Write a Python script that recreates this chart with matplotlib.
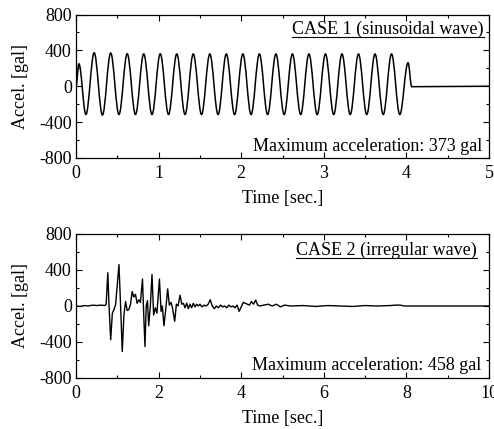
import matplotlib
matplotlib.use("Agg")
import matplotlib.pyplot as plt
from matplotlib.path import Path
from matplotlib.patches import PathPatch
from matplotlib.ticker import MultipleLocator
from matplotlib.lines import Line2D

plt.rcParams['font.family'] = ['Liberation Serif', 'DejaVu Serif']
plt.rcParams['axes.unicode_minus'] = False
FS = 13

# ---- CASE 1: sinusoidal wave, extreme points (time [s], accel [gal]) ----
sin_times = [0.0, 0.035, 0.12, 0.22, 0.32, 0.42, 0.52, 0.62, 0.72, 0.82, 0.92,
             1.02, 1.12, 1.22, 1.32, 1.42, 1.52, 1.62, 1.72, 1.82, 1.92,
             2.02, 2.12, 2.22, 2.32, 2.42, 2.52, 2.62, 2.72, 2.82, 2.92,
             3.02, 3.12, 3.22, 3.32, 3.42, 3.52, 3.62, 3.72, 3.82, 3.92,
             4.02, 4.065, 5.0]
sin_accel = [0, 250, -315, 373, -320, 370, -315, 362, -315, 360, -315,
             362, -315, 360, -315, 360, -315, 360, -315, 360, -315,
             360, -315, 360, -315, 360, -315, 360, -315, 360, -315,
             360, -315, 360, -315, 360, -315, 360, -315, 360, -315,
             262, -5, 0]

# ---- CASE 2: irregular wave (time [s], accel [gal]) ----
irr_times = [0.0, 0.1, 0.2, 0.3, 0.4, 0.5, 0.6, 0.7, 0.73, 0.77, 0.80, 0.84,
             0.88, 0.92, 0.96, 1.04, 1.08, 1.12, 1.16, 1.20, 1.24, 1.28, 1.32,
             1.36, 1.40, 1.44, 1.48, 1.52, 1.56, 1.61, 1.64, 1.67, 1.70, 1.73,
             1.76, 1.80, 1.84, 1.88, 1.92, 1.96, 2.02, 2.06, 2.09, 2.13, 2.17,
             2.22, 2.26, 2.30, 2.34, 2.39, 2.43, 2.47, 2.52, 2.56, 2.60, 2.64,
             2.68, 2.72, 2.76, 2.80, 2.84, 2.88, 2.92, 2.96, 3.00, 3.05, 3.10,
             3.15, 3.20, 3.25, 3.30, 3.35, 3.40, 3.45, 3.50, 3.55, 3.60, 3.65,
             3.70, 3.75, 3.80, 3.85, 3.90, 3.95, 4.00, 4.05, 4.10, 4.15, 4.20,
             4.25, 4.30, 4.35, 4.40, 4.45, 4.55, 4.65, 4.75, 4.85, 4.95, 5.05,
             5.2, 5.5, 5.8, 6.1, 6.4, 6.7, 7.0, 7.3, 7.6, 7.75, 7.85, 7.95,
             8.2, 10.0]
irr_accel = [0, -5, 5, 0, 10, 5, 10, 5, 20, 370, 0, -375,
             -80, -40, 20, 460, 0, -505, -100, 50, -50, -40, 20,
             160, 100, 130, 30, 70, 40, 300, -100, -450, 0, 60,
             -220, 0, 350, -100, -20, -80, 300, -60, 0, -220, -50,
             190, 10, 40, -30, -170, 20, 0, 120, 20, 30, -20,
             30, -30, 20, -20, 30, -10, 20, 0, 20, -10, 10,
             0, 20, 70, 0, -30, 0, -20, 10, -10, 0, -20,
             10, -10, 0, -20, 10, -60, -10, 40, 30, 20, 10,
             50, 20, 65, 10, 0, 10, 20, 0, 20, -10, 10,
             0, 5, -5, 5, 0, -5, 5, 0, 5, 10, 10, 0,
             0, 0]

fig = plt.figure(figsize=(4.94, 4.29), dpi=100)
ax1 = fig.add_axes([76/494, 1-158/429, 413/494, 143.5/429])
ax2 = fig.add_axes([76/494, 1-378/429, 413/494, 144/429])

# smooth sinusoid via cubic Bezier between successive extremes
verts = [(sin_times[0], sin_accel[0])]
codes = [Path.MOVETO]
c = 0.3634
for i in range(len(sin_times) - 1):
    t0, v0 = sin_times[i], sin_accel[i]
    t1, v1 = sin_times[i + 1], sin_accel[i + 1]
    dt = t1 - t0
    verts += [(t0 + c*dt, v0), (t1 - c*dt, v1), (t1, v1)]
    codes += [Path.CURVE4]*3
ax1.add_patch(PathPatch(Path(verts, codes), fill=False, lw=1.1, ec='black'))

ax2.plot(irr_times, irr_accel, color='black', lw=1.0)

def style(ax, xmax, xmaj, xmin):
    ax.set_xlim(0, xmax)
    ax.set_ylim(-800, 800)
    ax.xaxis.set_major_locator(MultipleLocator(xmaj))
    ax.xaxis.set_minor_locator(MultipleLocator(xmin))
    ax.yaxis.set_major_locator(MultipleLocator(400))
    ax.yaxis.set_minor_locator(MultipleLocator(200))
    ax.tick_params(which='both', direction='in', top=True, right=True,
                   labelsize=FS)
    ax.tick_params(axis='x', pad=5)
    ax.tick_params(axis='y', pad=3)
    ax.tick_params(which='major', length=4, width=0.8)
    ax.tick_params(which='minor', length=2.5, width=0.8)
    for s in ax.spines.values():
        s.set_linewidth(0.9)
    ax.set_xlabel('Time [sec.]', fontsize=FS, labelpad=6)
    ax.set_ylabel('Accel. [gal]', fontsize=FS, labelpad=7)

style(ax1, 5, 1, 0.5)
style(ax2, 10, 2, 1)

titles = []
titles.append(ax1.text(0.987, 0.862, 'CASE 1 (sinusoidal wave)', transform=ax1.transAxes,
                       ha='right', va='baseline', fontsize=FS))
titles.append(ax2.text(0.971, 0.852, 'CASE 2 (irregular wave)', transform=ax2.transAxes,
                       ha='right', va='baseline', fontsize=FS))
ax1.text(0.984, 0.05, 'Maximum acceleration: 373 gal', transform=ax1.transAxes,
         ha='right', va='baseline', fontsize=FS)
ax2.text(0.981, 0.056, 'Maximum acceleration: 458 gal', transform=ax2.transAxes,
         ha='right', va='baseline', fontsize=FS)

# underline the case titles
fig.canvas.draw()
r = fig.canvas.get_renderer()
for t in titles:
    bb = t.get_window_extent(renderer=r)
    y = bb.y0 + 1.0
    fig.add_artist(Line2D([bb.x0/494, bb.x1/494], [y/429, y/429],
                          color='black', lw=0.8, transform=fig.transFigure))

fig.savefig('out.png', dpi=100)
